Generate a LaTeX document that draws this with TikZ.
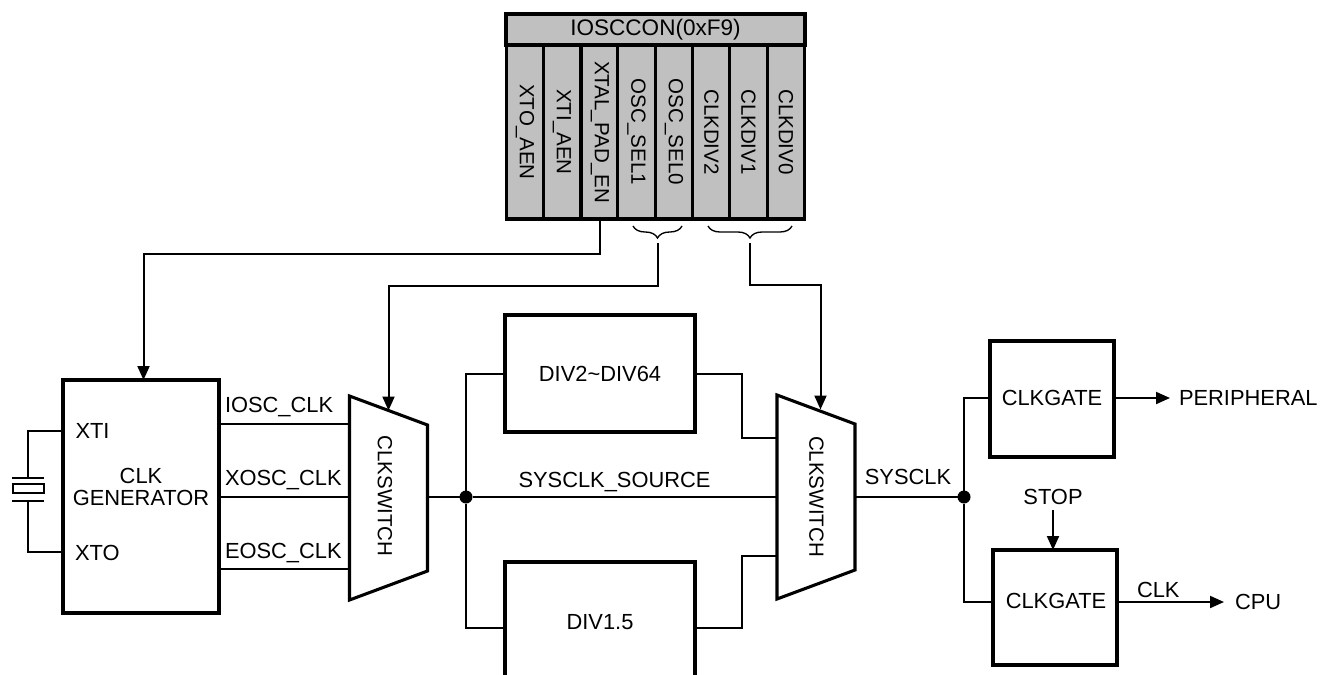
\documentclass[tikz,border=0pt]{standalone}
\usepackage{fontspec}
\setmainfont{Liberation Sans}
\usetikzlibrary{arrows.meta, shapes.geometric, decorations.pathreplacing}
\newcommand{\pxu}{0.75pt}
\tikzset{
    blockbox/.style = {draw, line width=2.3pt, inner sep=0pt, outer sep=0pt},
    regcell/.style = {blockbox, fill=regfill, rotate=-90, minimum width=174*\pxu, minimum height=37.4*\pxu,
        font=\fontsize{15.4}{18}\selectfont},
    switchbox/.style = {blockbox, trapezium, rotate=-90, trapezium angle=69.6,
        text width=146*\pxu, text height=78*\pxu, text depth=0pt},
    wire/.style = {line width=1.5pt},
    arrowwire/.style = {wire, -{Triangle[length=10.5pt, width=9pt]}},
    bracewire/.style = {line width=1pt, decorate, decoration={brace, mirror, amplitude=9pt}},
    jointdot/.style = {circle, fill=black, inner sep=0pt, outer sep=0pt, minimum size=13*\pxu},
    plaintext/.style = {inner sep=0pt, outer sep=0pt}
}
\definecolor{regfill}{RGB}{192,192,192}

\begin{document}
\begin{tikzpicture}[x=0.75pt, y=-0.75pt, font=\fontsize{16.4}{18}\selectfont]
    \useasboundingbox (0,0) rectangle (1329,675);
    \clip (0,0) rectangle (1329,675);

    % Register:
    \node[blockbox, fill=regfill, minimum width=299*\pxu, minimum height=31*\pxu, font=\fontsize{16.9}{18}\selectfont] (regtitle) at (655.5,29.5) {IOSCCON(0xF9)};
    \node[regcell] (cell_xto) at (525,132) {XTO\_AEN};
    \node[regcell] (cell_xti) at (562,132) {XTI\_AEN};
    \node[regcell] (cell_xtal) at (600,132) {XTAL\_PAD\_EN};
    \node[regcell] (cell_sel1) at (636.5,132) {OSC\_SEL1};
    \node[regcell] (cell_sel0) at (674,132) {OSC\_SEL0};
    \node[regcell] (cell_div2) at (711.5,132) {CLKDIV2};
    \node[regcell] (cell_div1) at (748.5,132) {CLKDIV1};
    \node[regcell] (cell_div0) at (786,132) {CLKDIV0};

    % Braces:
    \draw[bracewire] (633,226) -- (682,226);
    \draw[bracewire] (708,226) -- (792,226);
    \coordinate (selbrace) at (658,243);
    \coordinate (divbrace) at (750,243);

    % Blocks:
    \node[blockbox, minimum width=156*\pxu, minimum height=233*\pxu] (gen) at (141,496.5) {};
    \node[switchbox] (swa) at (388.5,498) {};
    \node[switchbox] (swb) at (816,497) {};
    \node[blockbox, minimum width=190*\pxu, minimum height=117*\pxu] (div2) at (600,373.5) {DIV2\textasciitilde DIV64};
    \node[blockbox, minimum width=190*\pxu, minimum height=120*\pxu] (div15) at (600,622) {DIV1.5};
    \node[blockbox, minimum width=124*\pxu, minimum height=116*\pxu] (gatea) at (1052,399) {};
    \node[blockbox, minimum width=124*\pxu, minimum height=115*\pxu] (gateb) at (1055,607.5) {};

    % Labels:
    \node[plaintext] (gentext) at (141,489.5) {\begin{tabular}{@{}c@{}}CLK\\[-1.5pt]GENERATOR\end{tabular}};
    \node[plaintext, anchor=west] (xtilabel) at (75.5,431) {XTI};
    \node[plaintext, anchor=west] (xtolabel) at (75,553) {XTO};
    \node[plaintext, rotate=-90, font=\fontsize{15.4}{18}\selectfont] (swatext) at (385,496) {CLKSWITCH};
    \node[plaintext, rotate=-90, font=\fontsize{15.4}{18}\selectfont] (swbtext) at (816.5,496.5) {CLKSWITCH};
    \node[plaintext] (gateatext) at (1052,398) {CLKGATE};
    \node[plaintext] (gatebtext) at (1056,601) {CLKGATE};
    \node[plaintext, anchor=west] (ioscclk) at (225,407) {IOSC\_CLK};
    \node[plaintext, anchor=west] (xoscclk) at (225,480) {XOSC\_CLK};
    \node[plaintext, anchor=west] (eoscclk) at (225,553) {EOSC\_CLK};
    \node[plaintext] (sourcetext) at (614.5,482) {SYSCLK\_SOURCE};
    \node[plaintext] (sysclk) at (908,477) {SYSCLK};
    \node[plaintext] (stop) at (1053,497) {STOP};
    \node[plaintext, anchor=west] (peripheral) at (1179,398) {PERIPHERAL};
    \node[plaintext, anchor=west] (clktext) at (1137,590) {CLK};
    \node[plaintext, anchor=west] (cpu) at (1235,602) {CPU};

    % Crystal:
    \node[draw, wire, inner sep=0pt, minimum width=31*\pxu, minimum height=9*\pxu] (xtal) at (28.5,488.5) {};
    \draw[wire] (12,478) -- (44,478);
    \draw[wire] (12,501) -- (44,501);
    \draw[wire] (gen.west |- 0,431) -- (28,431) -- (28,478);
    \draw[wire] (gen.west |- 0,552) -- (28,552) -- (28,501);

    % Control lines:
    \draw[arrowwire] (cell_xtal.east) -- ++(0,35) -| ([xshift=2.5*\pxu]gen.north);
    \draw[arrowwire] (selbrace) -- ++(0,43) -| (swa.left side);
    \draw[arrowwire] (divbrace) -- ++(0,42) -| ([xshift=4.5*\pxu]swb.left side);

    % Clock lines:
    \draw[wire] (gen.east |- 0,424) -- (swa.south |- 0,424);
    \draw[wire] (gen.east) -- (swa.south |- gen.east);
    \draw[wire] (gen.east |- 0,569) -- (swa.south |- 0,569);
    \node[jointdot] (jointa) at (466,497) {};
    \draw[wire] (swa.north |- jointa) -- (jointa);
    \draw[wire] (jointa) -- (swb.south |- jointa);
    \draw[wire] (jointa) |- (div2.west);
    \draw[wire] (jointa) |- (div15.west |- 0,628);
    \draw[wire] (div2.east) -- ++(47,0) |- (swb.south |- 0,438);
    \draw[wire] (div15.east |- 0,628) -- ++(47,0) |- (swb.south |- 0,556);

    \node[jointdot] (jointb) at (964,497) {};
    \draw[wire] (swb.north |- jointb) -- (jointb);
    \draw[wire] (jointb) |- (gatea.west |- 0,398);
    \draw[wire] (jointb) |- (gateb.west |- 0,602);
    \draw[arrowwire] (gatea.east |- 0,398) -- (1170,398);
    \draw[arrowwire] (gateb.east |- 0,602) -- (1224,602);
    \draw[arrowwire] (stop.south |- 0,510) -- (stop.south |- gateb.north);
\end{tikzpicture}
\end{document}
